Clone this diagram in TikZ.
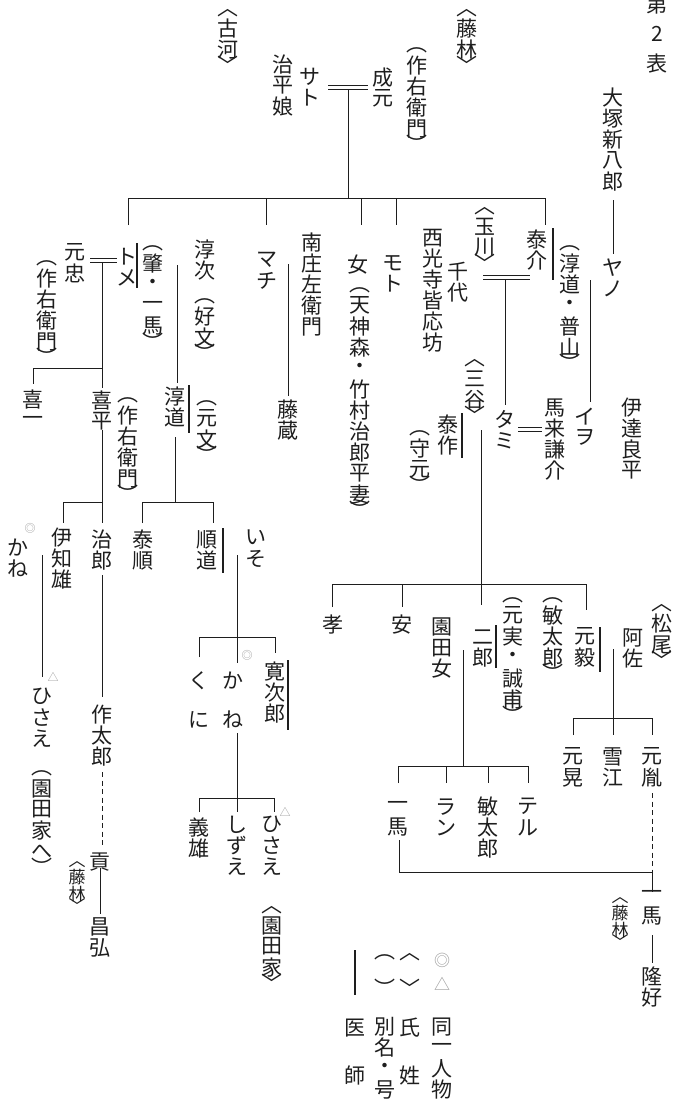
\documentclass[tikz,border=0pt]{standalone}
\usepackage{fontspec}
\newfontfamily\jp{Noto Sans CJK JP}
\usetikzlibrary{calc}
\definecolor{inkc}{HTML}{1E1E1E}
\definecolor{markc}{HTML}{9A9A9A}
% vertical text: one cell per character, brackets and gaps take a short cell
\makeatletter
\newif\ifvt@half
\newcommand\vt[1]{\vbox{\offinterlineskip
  \@tfor\vt@c:=#1\do{%
    \global\vt@halffalse
    \setbox\z@\hbox{\vt@c}%
    \ifvt@half\dimen@=.42em\else\dimen@=1em\fi
    \hbox to 1.05em{\hss\vbox to\dimen@{\vss\box\z@\vss}\hss}}}}
% bracket glyph boxed by its ink, so that it sits in the middle of its cell
\newcommand\vbr[1]{\global\vt@halftrue
  \setbox\tw@\hbox{#1}%
  \ht\tw@=\XeTeXglyphbounds2 \XeTeXcharglyph`#1\relax
  \dp\tw@=\XeTeXglyphbounds4 \XeTeXcharglyph`#1\relax
  \box\tw@}
\newcommand\vgap{\global\vt@halftrue}
\makeatother
\newcommand\vlp{\vbr{︵}}
\newcommand\vrp{\vbr{︶}}
\newcommand\vla{\vbr{︿}}
\newcommand\vra{\vbr{﹀}}
\tikzset{
    nm/.style={inner sep=0pt, anchor=north, text=inkc,
        font=\jp\fontsize{21pt}{21pt}\selectfont},
    sm/.style={nm, font=\jp\fontsize{17pt}{17pt}\selectfont},
    mk/.style={inner sep=0pt, text=markc, font=\jp\fontsize{11pt}{11pt}\selectfont},
    ln/.style={draw=inkc, line width=.8pt},
    dsh/.style={ln, dash pattern=on 5pt off 3.5pt},
    wed/.style={draw=inkc, double, double distance=3.2pt, line width=.7pt},
    dr/.style={draw=inkc, line width=1.3pt}
}
\begin{document}
\begin{tikzpicture}[x=1pt, y=-1pt]
\useasboundingbox (0,0) rectangle (677,1106);

% top generation
\node[nm] (koga) at (228,9) {\vt{\vla 古河\vra}};
\node[nm] (musume) at (283,54) {\vt{治平娘}};
\node[nm] (sato) at (310,66) {\vt{サト}};
\node[nm] (narimoto) at (383,67) {\vt{成元}};
\node[nm] (sakuA) at (417,46) {\vt{\vlp 作右衛門\vrp}};
\node[nm] (fujiA) at (467,9) {\vt{\vla 藤林\vra}};
\node[nm] (title) at (657,-6.5) {\vt{第\vgap 2\vgap 表}};
\node[nm] (otsuka) at (613,87) {\vt{大塚新八郎}};

\draw[wed] (328,87.5) -- (368,87.5);
\draw[ln] (348,89.5) -- (348,198);
\draw[ln] (128,225) |- (545,198) -- (545,225);
\foreach \x in {266,361,396} \draw[ln] (\x,198) -- (\x,225);

% children of narimoto
\node[nm] (tadamoto) at (75,242) {\vt{元忠}};
\node[nm] (sakuB) at (47,259) {\vt{\vlp 作右衛門\vrp}};
\node[nm] (tome) at (127,246) {\vt{トメ}};
\node[nm] (hajime) at (153,244) {\vt{\vlp 肇・一馬\vrp}};
\node[nm] (junji) at (205,239) {\vt{淳次}};
\node[nm] (kobun) at (205,297) {\vt{\vlp 好文\vrp}};
\node[nm] (machi) at (267,249) {\vt{マチ}};
\node[nm] (nansho) at (312,232) {\vt{南庄左衛門}};
\node[nm] (onna) at (358,254) {\vt{女}};
\node[nm] (tenjin) at (360,286) {\vt{\vlp 天神森・竹村治郎平妻\vrp}};
\node[nm] (moto) at (393,252) {\vt{モト}};
\node[nm] (saikoji) at (433,227) {\vt{西光寺皆応坊}};
\node[nm] (chiyo) at (458,261) {\vt{千代}};
\node[nm] (tamagawa) at (485,207) {\vt{\vla 玉川\vra}};
\node[nm] (taisuke) at (537,229) {\vt{泰介}};
\node[nm] (fuzan) at (570,244) {\vt{\vlp 淳道・普山\vrp}};
\node[nm] (yano) at (613,257) {\vt{ヤノ}};

\draw[wed] (90,260.5) -- (117,260.5);
\draw[ln] (102,262.5) -- (102,388);
\draw[ln] (102,368) -| (33,384);
\draw[dr] (137,243) -- (137,288);
\draw[wed] (163,263) -- (190,263);
\draw[ln] (177,265) -- (177,383);
\draw[wed] (278,262) -- (295,262);
\draw[ln] (288,264) -- (288,396);
\draw[wed] (407,263) -- (417,263);
\draw[wed] (483,277.5) -- (530,277.5);
\draw[ln] (505,279.5) -- (505,405);
\draw[dr] (553,228) -- (553,280);
\draw[wed] (583,278) -- (600,278);
\draw[ln] (590,280) -- (590,402);
\draw[ln] (613,200) -- (613,254);

% third generation
\node[nm] (kiichi) at (33,389) {\vt{喜一}};
\node[nm] (kihei) at (102,390) {\vt{喜平}};
\node[nm] (sakuC) at (128,396) {\vt{\vlp 作右衛門\vrp}};
\node[nm] (jundo) at (175,386) {\vt{淳道}};
\node[nm] (genbun) at (207,399) {\vt{\vlp 元文\vrp}};
\node[nm] (fujizo) at (288,399) {\vt{藤蔵}};
\node[nm] (morimoto) at (420,429) {\vt{\vlp 守元\vrp}};
\node[nm] (taisaku) at (448,414) {\vt{泰作}};
\node[nm] (mitani) at (475,359) {\vt{\vla 三谷\vra}};
\node[nm] (tami) at (505,409) {\vt{タミ}};
\node[nm] (kensuke) at (555,397) {\vt{馬来謙介}};
\node[nm] (iwo) at (585,406) {\vt{イヲ}};
\node[nm] (ryohei) at (632,397) {\vt{伊達良平}};

\draw[dr] (189,385) -- (189,433);
\draw[dr] (462,413) -- (462,458);
\draw[wed] (468,428) -- (493,428);
\draw[wed] (518,429.5) -- (542,429.5);
\draw[wed] (595,430) -- (617,430);
\draw[ln] (102,430) -- (102,523);
\draw[ln] (102,502) -| (63,523);
\draw[ln] (175,437) -- (175,502);
\draw[ln] (142,523) |- (213,502) -- (213,523);

% fourth generation, left
\node[nm] (kaneA) at (18,537) {\vt{かね}};
\node[mk] (dmA) at (30,528) {◎};
\node[nm] (ichio) at (62,527) {\vt{伊知雄}};
\node[nm] (jiro) at (102,529) {\vt{治郎}};
\node[nm] (taijun) at (143,529) {\vt{泰順}};
\node[nm] (nobumichi) at (207,529) {\vt{順道}};
\node[nm] (iso) at (256,527) {\vt{いそ}};

\draw[wed] (32,553) -- (50,553);
\draw[ln] (42,555) -- (42,677);
\draw[dr] (223,528) -- (223,573);
\draw[wed] (225,553) -- (245,553);
\draw[ln] (237,555) -- (237,663);
\draw[ln] (199,657) |- (275,637) -- (275,653);

\node[mk] (triA) at (53,677) {△};
\node[nm] (hisaeA) at (42,686) {\vt{ひさえ}};
\node[nm] (sonodaA) at (42,769) {\vt{\vlp 園田家へ\vrp}};
\node[nm] (sakutaro) at (102,704) {\vt{作太郎}};
\node[nm] (mitsugu) at (100,851) {\vt{貢}};
\node[sm] (fujiB) at (77,861) {\vt{\vla 藤林\vra}};
\node[nm] (masahiro) at (100,916) {\vt{昌弘}};
\node[nm] (kuni) at (199,670.5) {\vt{く\vgap\vgap に}};
\node[mk] (dmB) at (247,655) {◎};
\node[nm] (kaneB) at (233,670) {\vt{か\vgap\vgap ね}};
\node[nm] (kanjiro) at (275,661) {\vt{寛次郎}};
\node[mk] (triB) at (285,812) {△};
\node[nm] (yoshio) at (199,817) {\vt{義雄}};
\node[nm] (shizue) at (237,814) {\vt{しずえ}};
\node[nm] (hisaeB) at (272,814) {\vt{ひさえ}};
\node[nm] (sonodaB) at (272,906) {\vt{\vla 園田家\vra}};

\draw[ln] (102,575) -- (102,697);
\draw[dsh] (102,772) -- (102,848);
\draw[ln] (100,868) -- (100,914);
\draw[dr] (288,660) -- (288,730);
\draw[ln] (237,733) -- (237,812);
\draw[ln] (199,812) |- (274,798) -- (274,812);

% fourth generation, right
\draw[ln] (481,430) -- (481,605);
\draw[ln] (332,607) |- (586,584) -- (586,610);
\draw[ln] (402,584) -- (402,607);

\node[nm] (takashi) at (333,614) {\vt{孝}};
\node[nm] (yasu) at (402,614) {\vt{安}};
\node[nm] (sonodajo) at (442,616) {\vt{園田女}};
\node[nm] (jiroB) at (483,626) {\vt{二郎}};
\node[nm] (motozane) at (513,596) {\vt{\vlp 元実・誠甫\vrp}};
\node[nm] (toshiA) at (553,596) {\vt{\vlp 敏太郎\vrp}};
\node[nm] (motoki) at (585,626) {\vt{元毅}};
\node[nm] (asa) at (633,627) {\vt{阿佐}};
\node[nm] (matsuo) at (662,604) {\vt{\vla 松尾\vra}};

\draw[dr] (496,625) -- (496,668);
\draw[wed] (455,648) -- (470,648);
\draw[ln] (463,650) -- (463,766);
\draw[ln] (398,783) |- (528,766) -- (528,783);
\foreach \x in {446,488} \draw[ln] (\x,766) -- (\x,783);
\draw[dr] (600,627) -- (600,672);
\draw[wed] (605,647) -- (618,647);
\draw[ln] (613,649) -- (613,735);
\draw[ln] (573,735) |- (652,718) -- (652,735);

\node[nm] (motoaki) at (573,746) {\vt{元晃}};
\node[nm] (yukie) at (613,746) {\vt{雪江}};
\node[nm] (motokazu) at (652,746) {\vt{元胤}};
\node[nm] (kazumaA) at (398,795) {\vt{一馬}};
\node[nm] (ran) at (446,796) {\vt{ラン}};
\node[nm] (toshiB) at (488,796) {\vt{敏太郎}};
\node[nm] (teru) at (528,796) {\vt{テル}};
\node[nm] (kazumaB) at (652,884) {\vt{一馬}};
\node[sm] (fujiC) at (620,897) {\vt{\vla 藤林\vra}};
\node[nm] (takayoshi) at (652,966) {\vt{隆好}};

\draw[dsh] (652,793) -- (652,872);
\draw[ln] (399,840) |- (652,872) -- (652,892);
\draw[ln] (652,935) -- (652,963);

% legend
\draw[dr] (355,950) -- (355,995);
\node[nm, anchor=center] (lpA) at (385,957) {\vlp};
\node[nm, anchor=center] (lpB) at (385,988) {\vrp};
\node[nm, anchor=center] (laA) at (410,957) {\vla};
\node[nm, anchor=center] (laB) at (410,988) {\vra};
\node[mk, font=\jp\fontsize{16pt}{16pt}\selectfont] (dmL) at (442,960) {◎};
\node[mk, font=\jp\fontsize{16pt}{16pt}\selectfont] (triL) at (442,984) {△};
\node[nm] (ishi) at (355,1017) {\vt{医\vgap\vgap\vgap 師}};
\node[nm] (betsu) at (385,1016) {\vt{別名・号}};
\node[nm] (shisei) at (410,1017) {\vt{氏\vgap\vgap\vgap 姓}};
\node[nm] (doitsu) at (442,1016) {\vt{同一人物}};
\end{tikzpicture}
\end{document}
